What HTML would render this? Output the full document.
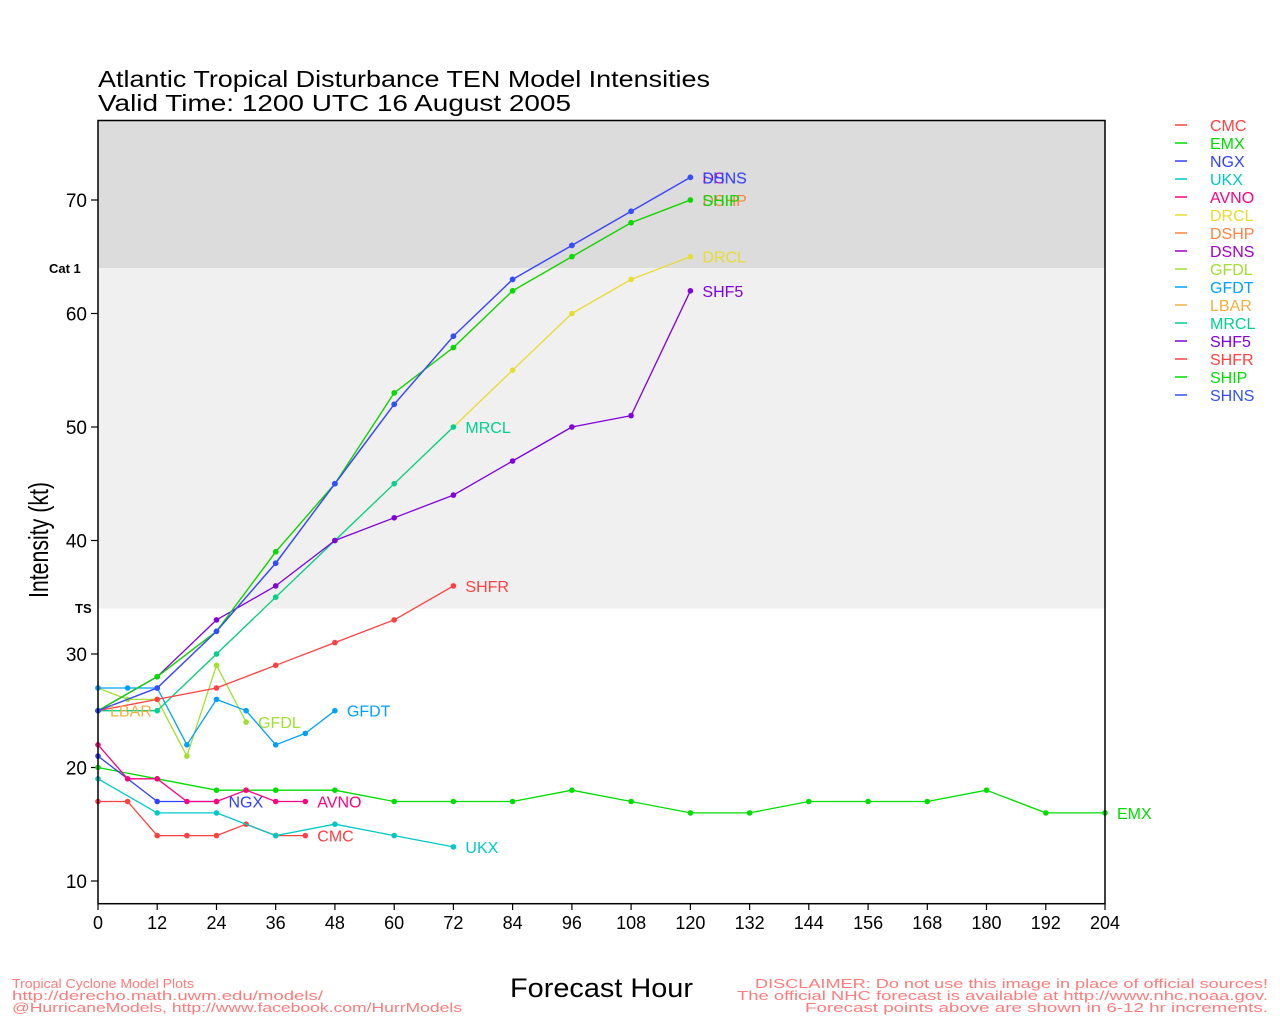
<!DOCTYPE html>
<html>
<head>
<meta charset="utf-8">
<style>
  html, body { margin:0; padding:0; background:#fff; }
  svg { display:block; }
  text { font-family: "Liberation Sans", "DejaVu Sans", sans-serif; }
</style>
</head>
<body>
<svg width="1280" height="1024" viewBox="0 0 1280 1024" xmlns="http://www.w3.org/2000/svg">
  <defs>
    <marker id="mCMC" markerWidth="8" markerHeight="8" refX="4" refY="4" markerUnits="userSpaceOnUse"><circle cx="4" cy="4" r="2.8" fill="#ff4040"/></marker>
    <marker id="mEMX" markerWidth="8" markerHeight="8" refX="4" refY="4" markerUnits="userSpaceOnUse"><circle cx="4" cy="4" r="2.8" fill="#00dd00"/></marker>
    <marker id="mNGX" markerWidth="8" markerHeight="8" refX="4" refY="4" markerUnits="userSpaceOnUse"><circle cx="4" cy="4" r="2.8" fill="#3040ff"/></marker>
    <marker id="mUKX" markerWidth="8" markerHeight="8" refX="4" refY="4" markerUnits="userSpaceOnUse"><circle cx="4" cy="4" r="2.8" fill="#00c8c8"/></marker>
    <marker id="mAVNO" markerWidth="8" markerHeight="8" refX="4" refY="4" markerUnits="userSpaceOnUse"><circle cx="4" cy="4" r="2.8" fill="#ff0080"/></marker>
    <marker id="mDRCL" markerWidth="8" markerHeight="8" refX="4" refY="4" markerUnits="userSpaceOnUse"><circle cx="4" cy="4" r="2.8" fill="#e8dc30"/></marker>
    <marker id="mDSHP" markerWidth="8" markerHeight="8" refX="4" refY="4" markerUnits="userSpaceOnUse"><circle cx="4" cy="4" r="2.8" fill="#ff8040"/></marker>
    <marker id="mDSNS" markerWidth="8" markerHeight="8" refX="4" refY="4" markerUnits="userSpaceOnUse"><circle cx="4" cy="4" r="2.8" fill="#a000c8"/></marker>
    <marker id="mGFDL" markerWidth="8" markerHeight="8" refX="4" refY="4" markerUnits="userSpaceOnUse"><circle cx="4" cy="4" r="2.8" fill="#a0e030"/></marker>
    <marker id="mGFDT" markerWidth="8" markerHeight="8" refX="4" refY="4" markerUnits="userSpaceOnUse"><circle cx="4" cy="4" r="2.8" fill="#00a0ff"/></marker>
    <marker id="mMRCL" markerWidth="8" markerHeight="8" refX="4" refY="4" markerUnits="userSpaceOnUse"><circle cx="4" cy="4" r="2.8" fill="#00d090"/></marker>
    <marker id="mSHF5" markerWidth="8" markerHeight="8" refX="4" refY="4" markerUnits="userSpaceOnUse"><circle cx="4" cy="4" r="2.8" fill="#8000e0"/></marker>
    <marker id="mSHFR" markerWidth="8" markerHeight="8" refX="4" refY="4" markerUnits="userSpaceOnUse"><circle cx="4" cy="4" r="2.8" fill="#ff4040"/></marker>
    <marker id="mSHIP" markerWidth="8" markerHeight="8" refX="4" refY="4" markerUnits="userSpaceOnUse"><circle cx="4" cy="4" r="2.8" fill="#00dd00"/></marker>
    <marker id="mSHNS" markerWidth="8" markerHeight="8" refX="4" refY="4" markerUnits="userSpaceOnUse"><circle cx="4" cy="4" r="2.8" fill="#3050ff"/></marker>
  </defs>

  <!-- Titles -->
  <text x="98" y="87" font-size="23" fill="#000" textLength="612" lengthAdjust="spacingAndGlyphs">Atlantic Tropical Disturbance TEN Model Intensities</text>
  <text x="98" y="111" font-size="23" fill="#000" textLength="473" lengthAdjust="spacingAndGlyphs">Valid Time: 1200 UTC 16 August 2005</text>

  <!-- Shading -->
  <rect x="98" y="120.5" width="1007" height="147.6" fill="#dcdcdc"/>
  <rect x="98" y="268.1" width="1007" height="340.5" fill="#f0f0f0"/>

  <!-- Category labels -->
  <text x="49" y="273" font-size="13" font-weight="bold" fill="#000">Cat 1</text>
  <text x="75" y="613" font-size="13" font-weight="bold" fill="#000">TS</text>

  <!-- Y ticks -->
  <g stroke="#000" stroke-width="1.2">
    <line x1="91" y1="881" x2="98" y2="881"/>
    <line x1="91" y1="767.5" x2="98" y2="767.5"/>
    <line x1="91" y1="654" x2="98" y2="654"/>
    <line x1="91" y1="540.5" x2="98" y2="540.5"/>
    <line x1="91" y1="427" x2="98" y2="427"/>
    <line x1="91" y1="313.5" x2="98" y2="313.5"/>
    <line x1="91" y1="200" x2="98" y2="200"/>
  </g>
  <g font-size="19" fill="#000" text-anchor="end">
    <text x="87" y="888">10</text>
    <text x="87" y="774.5">20</text>
    <text x="87" y="661">30</text>
    <text x="87" y="547.5">40</text>
    <text x="87" y="434">50</text>
    <text x="87" y="320.5">60</text>
    <text x="87" y="207">70</text>
  </g>

  <!-- X ticks -->
  <g stroke="#000" stroke-width="1.2">
    <line x1="98" y1="903.7" x2="98" y2="910"/>
    <line x1="157.2" y1="903.7" x2="157.2" y2="910"/>
    <line x1="216.5" y1="903.7" x2="216.5" y2="910"/>
    <line x1="275.7" y1="903.7" x2="275.7" y2="910"/>
    <line x1="334.9" y1="903.7" x2="334.9" y2="910"/>
    <line x1="394.2" y1="903.7" x2="394.2" y2="910"/>
    <line x1="453.4" y1="903.7" x2="453.4" y2="910"/>
    <line x1="512.6" y1="903.7" x2="512.6" y2="910"/>
    <line x1="571.9" y1="903.7" x2="571.9" y2="910"/>
    <line x1="631.1" y1="903.7" x2="631.1" y2="910"/>
    <line x1="690.4" y1="903.7" x2="690.4" y2="910"/>
    <line x1="749.6" y1="903.7" x2="749.6" y2="910"/>
    <line x1="808.8" y1="903.7" x2="808.8" y2="910"/>
    <line x1="868.1" y1="903.7" x2="868.1" y2="910"/>
    <line x1="927.3" y1="903.7" x2="927.3" y2="910"/>
    <line x1="986.5" y1="903.7" x2="986.5" y2="910"/>
    <line x1="1045.8" y1="903.7" x2="1045.8" y2="910"/>
    <line x1="1105" y1="903.7" x2="1105" y2="910"/>
  </g>
  <g font-size="18" fill="#000" text-anchor="middle">
    <text x="98" y="929">0</text>
    <text x="157.2" y="929">12</text>
    <text x="216.5" y="929">24</text>
    <text x="275.7" y="929">36</text>
    <text x="334.9" y="929">48</text>
    <text x="394.2" y="929">60</text>
    <text x="453.4" y="929">72</text>
    <text x="512.6" y="929">84</text>
    <text x="571.9" y="929">96</text>
    <text x="631.1" y="929">108</text>
    <text x="690.4" y="929">120</text>
    <text x="749.6" y="929">132</text>
    <text x="808.8" y="929">144</text>
    <text x="868.1" y="929">156</text>
    <text x="927.3" y="929">168</text>
    <text x="986.5" y="929">180</text>
    <text x="1045.8" y="929">192</text>
    <text x="1105" y="929">204</text>
  </g>

  <!-- Axis titles -->
  <text x="601.5" y="997" font-size="27" fill="#000" text-anchor="middle" textLength="183" lengthAdjust="spacingAndGlyphs">Forecast Hour</text>
  <text transform="translate(48,540) rotate(-90)" x="0" y="0" font-size="28" fill="#000" text-anchor="middle" textLength="116" lengthAdjust="spacingAndGlyphs">Intensity (kt)</text>

  <!-- Series -->
  <g fill="none" stroke-width="1.3" stroke-linejoin="round">
    <polyline stroke="#ff4040" marker-start="url(#mCMC)" marker-mid="url(#mCMC)" marker-end="url(#mCMC)"
      points="98,801.5 127.6,801.5 157.2,835.6 186.9,835.6 216.5,835.6 246.1,824.2 275.7,835.6 305.3,835.6"/>
    <polyline stroke="#00dd00" marker-start="url(#mEMX)" marker-mid="url(#mEMX)" marker-end="url(#mEMX)"
      points="98,767.5 157.2,778.8 216.5,790.2 275.7,790.2 334.9,790.2 394.2,801.5 453.4,801.5 512.6,801.5 571.9,790.2 631.1,801.5 690.4,812.9 749.6,812.9 808.8,801.5 868.1,801.5 927.3,801.5 986.5,790.2 1045.8,812.9 1105,812.9"/>
    <polyline stroke="#3040ff" marker-start="url(#mNGX)" marker-mid="url(#mNGX)" marker-end="url(#mNGX)"
      points="98,756.1 157.2,801.5 216.5,801.5"/>
    <polyline stroke="#00c8c8" marker-start="url(#mUKX)" marker-mid="url(#mUKX)" marker-end="url(#mUKX)"
      points="98,778.8 157.2,812.9 216.5,812.9 275.7,835.6 334.9,824.2 394.2,835.6 453.4,846.9"/>
    <polyline stroke="#ff0080" marker-start="url(#mAVNO)" marker-mid="url(#mAVNO)" marker-end="url(#mAVNO)"
      points="98,744.8 127.6,778.8 157.2,778.8 186.9,801.5 216.5,801.5 246.1,790.2 275.7,801.5 305.3,801.5"/>
    <polyline stroke="#e8dc30" marker-start="url(#mDRCL)" marker-mid="url(#mDRCL)" marker-end="url(#mDRCL)"
      points="98,710.7 157.2,710.7 216.5,654 275.7,597.2 334.9,540.5 394.2,483.7 453.4,427 512.6,370.2 571.9,313.5 631.1,279.4 690.4,256.7"/>
    <polyline stroke="#ff8040" marker-start="url(#mDSHP)" marker-mid="url(#mDSHP)" marker-end="url(#mDSHP)"
      points="98,710.7 157.2,676.7 216.5,631.3 275.7,551.8 334.9,483.7 394.2,392.9 453.4,347.5 512.6,290.8 571.9,256.7 631.1,222.7 690.4,200"/>
    <polyline stroke="#a000c8" marker-start="url(#mDSNS)" marker-mid="url(#mDSNS)" marker-end="url(#mDSNS)"
      points="98,710.7 157.2,688 216.5,631.3 275.7,563.2 334.9,483.7 394.2,404.3 453.4,336.2 512.6,279.4 571.9,245.4 631.1,211.3 690.4,177.3"/>
    <polyline stroke="#a0e030" marker-start="url(#mGFDL)" marker-mid="url(#mGFDL)" marker-end="url(#mGFDL)"
      points="98,688 127.6,699.4 157.2,699.4 186.9,756.1 216.5,665.3 246.1,722.1"/>
    <polyline stroke="#00a0ff" marker-start="url(#mGFDT)" marker-mid="url(#mGFDT)" marker-end="url(#mGFDT)"
      points="98,688 127.6,688 157.2,688 186.9,744.8 216.5,699.4 246.1,710.7 275.7,744.8 305.3,733.4 334.9,710.7"/>
    <circle cx="98" cy="710.7" r="2.8" fill="#f0b040" stroke="none"/>
    <polyline stroke="#00d090" marker-start="url(#mMRCL)" marker-mid="url(#mMRCL)" marker-end="url(#mMRCL)"
      points="98,710.7 157.2,710.7 216.5,654 275.7,597.2 334.9,540.5 394.2,483.7 453.4,427"/>
    <polyline stroke="#8000e0" marker-start="url(#mSHF5)" marker-mid="url(#mSHF5)" marker-end="url(#mSHF5)"
      points="98,710.7 157.2,676.7 216.5,619.9 275.7,585.9 334.9,540.5 394.2,517.8 453.4,495.1 512.6,461 571.9,427 631.1,415.6 690.4,290.8"/>
    <polyline stroke="#ff4040" marker-start="url(#mSHFR)" marker-mid="url(#mSHFR)" marker-end="url(#mSHFR)"
      points="98,710.7 157.2,699.4 216.5,688 275.7,665.3 334.9,642.6 394.2,619.9 453.4,585.9"/>
    <polyline stroke="#00dd00" marker-start="url(#mSHIP)" marker-mid="url(#mSHIP)" marker-end="url(#mSHIP)"
      points="98,710.7 157.2,676.7 216.5,631.3 275.7,551.8 334.9,483.7 394.2,392.9 453.4,347.5 512.6,290.8 571.9,256.7 631.1,222.7 690.4,200"/>
    <polyline stroke="#3050ff" marker-start="url(#mSHNS)" marker-mid="url(#mSHNS)" marker-end="url(#mSHNS)"
      points="98,710.7 157.2,688 216.5,631.3 275.7,563.2 334.9,483.7 394.2,404.3 453.4,336.2 512.6,279.4 571.9,245.4 631.1,211.3 690.4,177.3"/>
  </g>

  <!-- Series labels -->
  <g font-size="16">
    <text x="317.3" y="841.6" fill="#ff4040">CMC</text>
    <text x="1117" y="819" fill="#00dd00">EMX</text>
    <text x="228.5" y="807.5" fill="#3040ff">NGX</text>
    <text x="465.4" y="853" fill="#00c8c8">UKX</text>
    <text x="317.3" y="807.5" fill="#ff0080">AVNO</text>
    <text x="702.4" y="262.7" fill="#e8dc30">DRCL</text>
    <text x="702.4" y="206" fill="#ff8040">DSHP</text>
    <text x="702.4" y="183.3" fill="#a000c8">DSNS</text>
    <text x="258.1" y="728" fill="#a0e030">GFDL</text>
    <text x="346.9" y="716.7" fill="#00a0ff">GFDT</text>
    <text x="110" y="716.7" fill="#f0b040">LBAR</text>
    <text x="465.4" y="433" fill="#00d090">MRCL</text>
    <text x="702.4" y="296.8" fill="#8000e0">SHF5</text>
    <text x="465.4" y="592" fill="#ff4040">SHFR</text>
    <text x="702.4" y="206" fill="#00dd00">SHIP</text>
    <text x="702.4" y="183.3" fill="#3050ff">SHNS</text>
  </g>

  <!-- Frame -->
  <rect x="98" y="120.5" width="1007" height="783.2" fill="none" stroke="#000" stroke-width="1.5"/>

  <!-- Legend -->
  <g stroke-width="1.5">
    <line x1="1175" y1="125" x2="1187" y2="125" stroke="#ff4040"/>
    <line x1="1175" y1="143" x2="1187" y2="143" stroke="#00dd00"/>
    <line x1="1175" y1="161" x2="1187" y2="161" stroke="#3040ff"/>
    <line x1="1175" y1="179" x2="1187" y2="179" stroke="#00c8c8"/>
    <line x1="1175" y1="197" x2="1187" y2="197" stroke="#ff0080"/>
    <line x1="1175" y1="215" x2="1187" y2="215" stroke="#e8dc30"/>
    <line x1="1175" y1="233" x2="1187" y2="233" stroke="#ff8040"/>
    <line x1="1175" y1="251" x2="1187" y2="251" stroke="#a000c8"/>
    <line x1="1175" y1="269" x2="1187" y2="269" stroke="#a0e030"/>
    <line x1="1175" y1="287" x2="1187" y2="287" stroke="#00a0ff"/>
    <line x1="1175" y1="305" x2="1187" y2="305" stroke="#f0b040"/>
    <line x1="1175" y1="323" x2="1187" y2="323" stroke="#00d090"/>
    <line x1="1175" y1="341" x2="1187" y2="341" stroke="#8000e0"/>
    <line x1="1175" y1="359" x2="1187" y2="359" stroke="#ff4040"/>
    <line x1="1175" y1="377" x2="1187" y2="377" stroke="#00dd00"/>
    <line x1="1175" y1="395" x2="1187" y2="395" stroke="#3050ff"/>
  </g>
  <g font-size="16">
    <text x="1210" y="131" fill="#ff4040">CMC</text>
    <text x="1210" y="149" fill="#00dd00">EMX</text>
    <text x="1210" y="167" fill="#3040ff">NGX</text>
    <text x="1210" y="185" fill="#00c8c8">UKX</text>
    <text x="1210" y="203" fill="#ff0080">AVNO</text>
    <text x="1210" y="221" fill="#e8dc30">DRCL</text>
    <text x="1210" y="239" fill="#ff8040">DSHP</text>
    <text x="1210" y="257" fill="#a000c8">DSNS</text>
    <text x="1210" y="275" fill="#a0e030">GFDL</text>
    <text x="1210" y="293" fill="#00a0ff">GFDT</text>
    <text x="1210" y="311" fill="#f0b040">LBAR</text>
    <text x="1210" y="329" fill="#00d090">MRCL</text>
    <text x="1210" y="347" fill="#8000e0">SHF5</text>
    <text x="1210" y="365" fill="#ff4040">SHFR</text>
    <text x="1210" y="383" fill="#00dd00">SHIP</text>
    <text x="1210" y="401" fill="#3050ff">SHNS</text>
  </g>

  <!-- Footer -->
  <g font-size="13" fill="#ff7b7b">
    <text x="12" y="988" textLength="182" lengthAdjust="spacingAndGlyphs">Tropical Cyclone Model Plots</text>
    <text x="12" y="1000" textLength="311" lengthAdjust="spacingAndGlyphs">http://derecho.math.uwm.edu/models/</text>
    <text x="12" y="1012" textLength="450" lengthAdjust="spacingAndGlyphs">@HurricaneModels, http://www.facebook.com/HurrModels</text>
    <text x="755" y="988" textLength="513" lengthAdjust="spacingAndGlyphs">DISCLAIMER: Do not use this image in place of official sources!</text>
    <text x="737" y="1000" textLength="531" lengthAdjust="spacingAndGlyphs">The official NHC forecast is available at http://www.nhc.noaa.gov.</text>
    <text x="805" y="1012" textLength="463" lengthAdjust="spacingAndGlyphs">Forecast points above are shown in 6-12 hr increments.</text>
  </g>
</svg>
</body>
</html>
